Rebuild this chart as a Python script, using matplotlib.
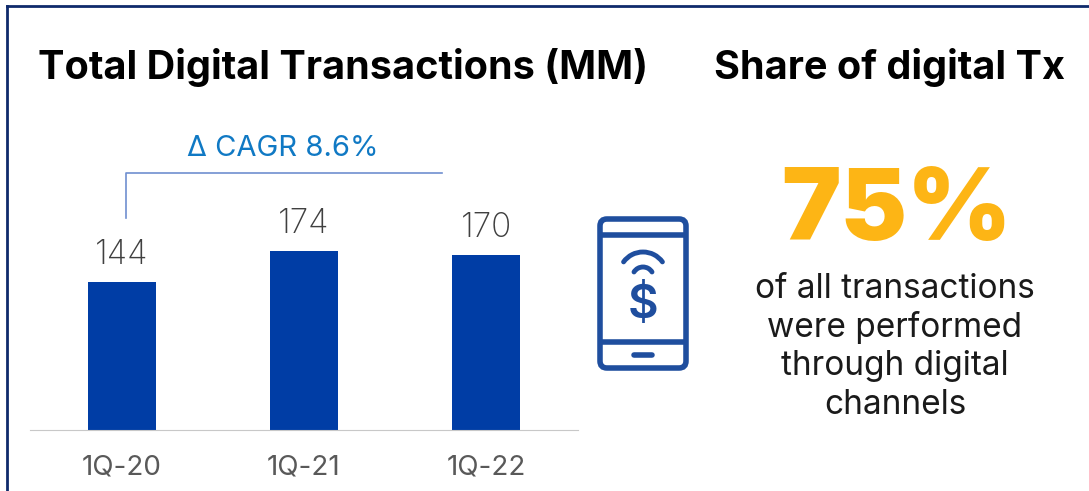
import matplotlib
matplotlib.use("Agg")
import matplotlib.pyplot as plt
from matplotlib.patches import FancyBboxPatch, Arc

# Data
quarters = ["1Q-20", "1Q-21", "1Q-22"]
transactions = [144, 174, 170]
cagr_label = "Δ CAGR 8.6%"
share_value = "75%"
share_lines = ["of all transactions", "were performed", "through digital", "channels"]

W, H = 1089, 491
plt.rcParams['font.family'] = ['Inter', 'DejaVu Sans']

fig = plt.figure(figsize=(W / 100, H / 100), dpi=100)

# overlay in pixel coordinates
bg = fig.add_axes([0, 0, 1, 1])
bg.set_xlim(0, W)
bg.set_ylim(H, 0)
bg.axis('off')

# Border of the slide
navy = "#0F2A6B"
bg.plot([7, 7], [491, 6], color=navy, lw=2)
bg.plot([7, 1089], [6, 6], color=navy, lw=2)

bg.text(38, 67, "Total Digital Transactions (MM)", fontsize=28.5, fontweight='bold', va='center', color='black')
bg.text(714, 67, "Share of digital Tx", fontsize=28.5, fontweight='bold', va='center', color='black')

# Bars
ax = fig.add_axes([30 / W, 1 - 430 / H, 548 / W, 230 / H])
ax.patch.set_alpha(0)
x = [91.5, 274, 456]
ax.bar(x, transactions, width=68, color="#003DA5")
ax.set_xlim(0, 548)
ax.set_ylim(0, 223.8)
ax.set_yticks([])
for s in ['top', 'left', 'right']:
    ax.spines[s].set_visible(False)
ax.spines['bottom'].set_color("#C8C8C8")
ax.set_xticks(x)
ax.set_xticklabels(quarters, fontsize=20, color="#595959")
ax.tick_params(axis='x', length=0, pad=18)
for xi, v in zip(x, transactions):
    ax.annotate(str(v), (xi, v), xytext=(0, 8), textcoords='offset points', ha='center', va='bottom',
                fontsize=24, color="#404040", fontweight='light')

# CAGR bracket
bg.plot([126, 126, 442], [218, 173, 173], color="#6F8FD0", lw=1.2)
bg.text(283, 148, cagr_label, fontsize=21, color="#1079C4", ha='center', va='center')

# Phone icon
blue = "#1F4E9E"
bg.add_patch(FancyBboxPatch((600, 219), 86, 149, boxstyle="round,pad=0,rounding_size=7", fc='none', ec=blue, lw=4))
bg.plot([600, 686], [235, 235], color=blue, lw=4, solid_capstyle='butt')
bg.plot([600, 686], [342, 342], color=blue, lw=4, solid_capstyle='butt')
bg.plot([634, 652], [355, 355], color=blue, lw=4, solid_capstyle='round')
bg.add_patch(Arc((643, 276), 48, 48, theta1=216, theta2=324, color=blue, lw=3.5, capstyle='round'))
bg.add_patch(Arc((643, 277.6), 21.2, 21.2, theta1=212, theta2=328, color=blue, lw=3.5, capstyle='round'))
bg.text(643, 306, "$", fontsize=34, fontweight='semibold', color=blue, ha='center', va='center')

# Share panel
bg.text(897, 214, share_value, fontsize=72, fontweight='black', color="#FDB515", ha='center', va='center')
for y, line in zip([289, 328, 366, 405], share_lines):
    bg.text(895, y, line, fontsize=24, color="#1A1A1A", ha='center', va='center')

fig.savefig("out.png", dpi=100)
